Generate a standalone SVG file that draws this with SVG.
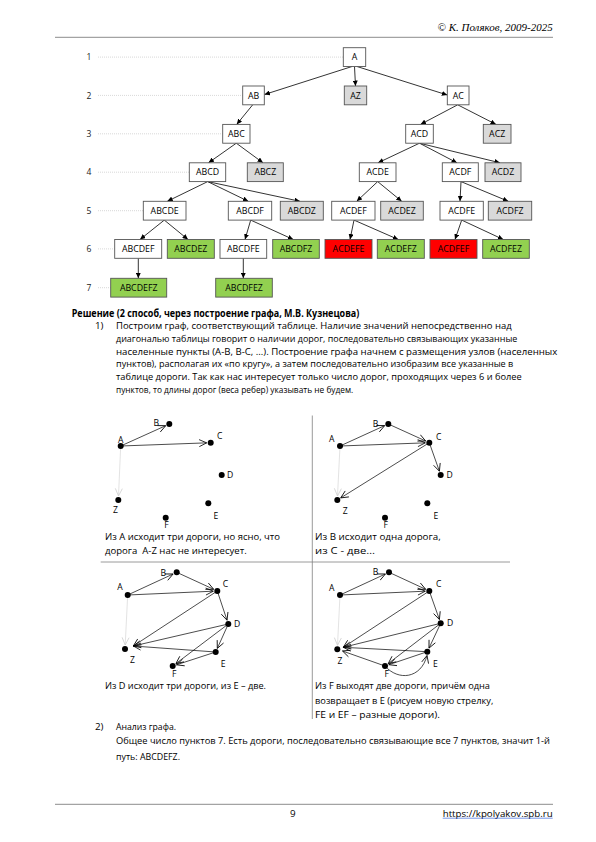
<svg xmlns="http://www.w3.org/2000/svg" width="596" height="842" viewBox="0 0 596 842">
<style>
.bx{stroke:#555;stroke-width:0.9}
.w{fill:#fff}.g{fill:#d9d9d9}.gr{fill:#92d050}.r{fill:#ff0000}
.bt{font-family:"Open Sans","DejaVu Sans",sans-serif;font-size:8.8px;text-anchor:middle;fill:#000}
.rl{font-family:"Open Sans","DejaVu Sans",sans-serif;font-size:8.5px;fill:#222}
.guide{stroke:#bdbdbd;stroke-width:0.6;stroke-dasharray:1 1;fill:none}
.te{stroke:#000;stroke-width:0.8;fill:none;marker-end:url(#ta)}
.ge{stroke:#000;stroke-width:0.7;fill:none;marker-end:url(#ga)}
.gz{stroke:#dcdcdc;stroke-width:0.8;fill:none;marker-end:url(#gz)}
.dot{fill:#000}
.nl{font-family:"Open Sans","DejaVu Sans",sans-serif;font-size:8.6px;text-anchor:middle;fill:#000}
.body{font-family:"Open Sans","DejaVu Sans",sans-serif;font-size:9.8px;fill:#000}
.cap{font-family:"Open Sans","DejaVu Sans",sans-serif;font-size:9.2px;fill:#000}
.rule{stroke:#8c8c8c;stroke-width:1}
.div{stroke:#808080;stroke-width:0.8}
</style>
<defs>
<marker id="ta" markerUnits="userSpaceOnUse" markerWidth="6" markerHeight="5" refX="5.5" refY="2.5" orient="auto"><path d="M0,0 L5.5,2.5 L0,5 z" fill="#000"/></marker>
<marker id="ga" markerUnits="userSpaceOnUse" markerWidth="9" markerHeight="9" refX="8" refY="4.5" orient="auto"><path d="M0.5,1 L8,4.5 L0.5,8" fill="none" stroke="#000" stroke-width="0.8"/></marker>
<marker id="gz" markerUnits="userSpaceOnUse" markerWidth="9" markerHeight="9" refX="8" refY="4.5" orient="auto"><path d="M0.5,1 L8,4.5 L0.5,8" fill="none" stroke="#cfcfcf" stroke-width="0.8"/></marker>
</defs>
<rect width="596" height="842" fill="#fff"/>

<!-- header -->
<text x="552.7" y="31" font-family="Liberation Serif,serif" font-style="italic" font-size="11" text-anchor="end">© К. Поляков, 2009-2025</text>
<line class="rule" x1="55" y1="37.3" x2="553" y2="37.3"/>

<!-- row labels and guides -->
<g id="levels">
<text class="rl" x="86.5" y="60.2">1</text>
<text class="rl" x="86.5" y="98.5">2</text>
<text class="rl" x="86.5" y="136.9">3</text>
<text class="rl" x="86.5" y="175.3">4</text>
<text class="rl" x="86.5" y="213.8">5</text>
<text class="rl" x="86.5" y="252">6</text>
<text class="rl" x="86.5" y="290.8">7</text>
<line class="guide" x1="98" y1="57.1" x2="343.3" y2="57.1"/>
<line class="guide" x1="98" y1="95.4" x2="242.7" y2="95.4"/>
<line class="guide" x1="98" y1="133.8" x2="222.7" y2="133.8"/>
<line class="guide" x1="98" y1="172.2" x2="189.3" y2="172.2"/>
<line class="guide" x1="98" y1="210.7" x2="143.3" y2="210.7"/>
<line class="guide" x1="98" y1="248.9" x2="114.7" y2="248.9"/>
<line class="guide" x1="98" y1="287.7" x2="110.7" y2="287.7"/>
</g>

<!-- tree connectors -->
<g id="tree-connectors">
<line class="te" x1="352" y1="66.5" x2="264.5" y2="94.5"/>
<line class="te" x1="354.5" y1="66.5" x2="355.5" y2="86"/>
<line class="te" x1="357" y1="66.5" x2="447.3" y2="95"/>
<line class="te" x1="252.7" y1="104.8" x2="236.7" y2="124.4"/>
<line class="te" x1="457.7" y1="104.8" x2="420.5" y2="124.4"/>
<line class="te" x1="457.7" y1="104.8" x2="496" y2="124.4"/>
<line class="te" x1="236.3" y1="143.2" x2="208.5" y2="162.8"/>
<line class="te" x1="236.3" y1="143.2" x2="263" y2="162.8"/>
<line class="te" x1="419.5" y1="143.2" x2="378" y2="162.8"/>
<line class="te" x1="419.5" y1="143.2" x2="457" y2="162.8"/>
<line class="te" x1="419.5" y1="143.2" x2="500" y2="162.8"/>
<line class="te" x1="207.7" y1="181.6" x2="167.3" y2="201.3"/>
<line class="te" x1="207.7" y1="181.6" x2="248.3" y2="201.3"/>
<line class="te" x1="207.7" y1="181.6" x2="300" y2="201.3"/>
<line class="te" x1="377.7" y1="181.6" x2="356.7" y2="201.3"/>
<line class="te" x1="377.7" y1="181.6" x2="401.7" y2="201.3"/>
<line class="te" x1="461" y1="181.6" x2="460" y2="201.3"/>
<line class="te" x1="461" y1="181.6" x2="508.3" y2="201.3"/>
<line class="te" x1="164.3" y1="220.1" x2="140" y2="239.5"/>
<line class="te" x1="164.3" y1="220.1" x2="188" y2="239.5"/>
<line class="te" x1="250.7" y1="220.1" x2="245" y2="239.5"/>
<line class="te" x1="250.7" y1="220.1" x2="293.3" y2="239.5"/>
<line class="te" x1="354" y1="220.1" x2="350" y2="239.5"/>
<line class="te" x1="354" y1="220.1" x2="398.3" y2="239.5"/>
<line class="te" x1="461.7" y1="220.1" x2="455" y2="239.5"/>
<line class="te" x1="461.7" y1="220.1" x2="503.3" y2="239.5"/>
<line class="te" x1="138.3" y1="258.3" x2="138.3" y2="278.3"/>
<line class="te" x1="243.3" y1="258.3" x2="243.3" y2="278.3"/>
</g>

<!-- tree nodes -->
<g id="n-A"><rect class="bx w" x="343.3" y="47.7" width="22.4" height="18.8"/><text class="bt" x="354.5" y="60.2">A</text></g>
<g id="n-AB"><rect class="bx w" x="242.7" y="86" width="21.6" height="18.8"/><text class="bt" x="253.5" y="98.5">AB</text></g>
<g id="n-AZ"><rect class="bx g" x="344.3" y="86" width="22.4" height="18.8"/><text class="bt" x="355.5" y="98.5">AZ</text></g>
<g id="n-AC"><rect class="bx w" x="447.3" y="86" width="21.7" height="18.8"/><text class="bt" x="458.2" y="98.5">AC</text></g>
<g id="n-ABC"><rect class="bx w" x="222.7" y="124.4" width="27.3" height="18.8"/><text class="bt" x="236.35" y="136.9">ABC</text></g>
<g id="n-ACD"><rect class="bx w" x="405.7" y="124.4" width="27.6" height="18.8"/><text class="bt" x="419.5" y="136.9">ACD</text></g>
<g id="n-ACZ"><rect class="bx g" x="483.3" y="124.4" width="27.7" height="18.8"/><text class="bt" x="497.15" y="136.9">ACZ</text></g>
<g id="n-ABCD"><rect class="bx w" x="189.3" y="162.8" width="36.4" height="18.8"/><text class="bt" x="207.5" y="175.3">ABCD</text></g>
<g id="n-ABCZ"><rect class="bx g" x="247.3" y="162.8" width="36" height="18.8"/><text class="bt" x="265.3" y="175.3">ABCZ</text></g>
<g id="n-ACDE"><rect class="bx w" x="359.3" y="162.8" width="36.7" height="18.8"/><text class="bt" x="377.65" y="175.3">ACDE</text></g>
<g id="n-ACDF"><rect class="bx w" x="442.3" y="162.8" width="36" height="18.8"/><text class="bt" x="460.3" y="175.3">ACDF</text></g>
<g id="n-ACDZ"><rect class="bx g" x="485" y="162.8" width="36" height="18.8"/><text class="bt" x="503" y="175.3">ACDZ</text></g>
<g id="n-ABCDE"><rect class="bx w" x="143.3" y="201.3" width="42.7" height="18.8"/><text class="bt" x="164.65" y="213.8">ABCDE</text></g>
<g id="n-ABCDF"><rect class="bx w" x="228.3" y="201.3" width="43.4" height="18.8"/><text class="bt" x="250" y="213.8">ABCDF</text></g>
<g id="n-ABCDZ"><rect class="bx g" x="280.3" y="201.3" width="43" height="18.8"/><text class="bt" x="301.8" y="213.8">ABCDZ</text></g>
<g id="n-ACDEF"><rect class="bx w" x="331.7" y="201.3" width="43.3" height="18.8"/><text class="bt" x="353.35" y="213.8">ACDEF</text></g>
<g id="n-ACDEZ"><rect class="bx g" x="380.7" y="201.3" width="42.6" height="18.8"/><text class="bt" x="402" y="213.8">ACDEZ</text></g>
<g id="n-ACDFE"><rect class="bx w" x="440" y="201.3" width="43.3" height="18.8"/><text class="bt" x="461.65" y="213.8">ACDFE</text></g>
<g id="n-ACDFZ"><rect class="bx g" x="488.3" y="201.3" width="43.4" height="18.8"/><text class="bt" x="510" y="213.8">ACDFZ</text></g>
<g id="n-ABCDEF"><rect class="bx w" x="114.7" y="239.5" width="47" height="18.8"/><text class="bt" x="138.2" y="252">ABCDEF</text></g>
<g id="n-ABCDEZ"><rect class="bx gr" x="167.3" y="239.5" width="47" height="18.8"/><text class="bt" x="190.8" y="252">ABCDEZ</text></g>
<g id="n-ABCDFE"><rect class="bx w" x="220" y="239.5" width="46.7" height="18.8"/><text class="bt" x="243.35" y="252">ABCDFE</text></g>
<g id="n-ABCDFZ"><rect class="bx gr" x="272.7" y="239.5" width="46.6" height="18.8"/><text class="bt" x="296" y="252">ABCDFZ</text></g>
<g id="n-ACDEFE"><rect class="bx r" x="325" y="239.5" width="47" height="18.8"/><text class="bt" x="348.5" y="252">ACDEFE</text></g>
<g id="n-ACDEFZ"><rect class="bx gr" x="377.3" y="239.5" width="47" height="18.8"/><text class="bt" x="400.8" y="252">ACDEFZ</text></g>
<g id="n-ACDFEF"><rect class="bx r" x="430" y="239.5" width="47" height="18.8"/><text class="bt" x="453.5" y="252">ACDFEF</text></g>
<g id="n-ACDFEZ"><rect class="bx gr" x="482.7" y="239.5" width="46.6" height="18.8"/><text class="bt" x="506" y="252">ACDFEZ</text></g>
<g id="n-ABCDEFZ"><rect class="bx gr" x="110.7" y="278.3" width="56" height="18.8"/><text class="bt" x="138.7" y="290.8">ABCDEFZ</text></g>
<g id="n-ABCDFEZ"><rect class="bx gr" x="215.7" y="278.3" width="56.6" height="18.8"/><text class="bt" x="244" y="290.8">ABCDFEZ</text></g>

<!-- solution text -->
<g id="solution-text">
<text class="body" x="71.7" y="316.7" font-weight="bold" textLength="287.6" lengthAdjust="spacingAndGlyphs">Решение (2 способ, через построение графа, М.В. Кузнецова)</text>
<text class="body" x="95" y="329.3">1)</text>
<text class="body" x="116" y="329.3" textLength="395.7" lengthAdjust="spacingAndGlyphs">Построим граф, соответствующий таблице. Наличие значений непосредственно над</text>
<text class="body" x="116" y="342" textLength="401.3" lengthAdjust="spacingAndGlyphs">диагональю таблицы говорит о наличии дорог, последовательно связывающих указанные</text>
<text class="body" x="116" y="354.7" textLength="441.3" lengthAdjust="spacingAndGlyphs">населенные пункты (А-В, В-С, …). Построение графа начнем с размещения узлов (населенных</text>
<text class="body" x="116" y="367.3" textLength="397.3" lengthAdjust="spacingAndGlyphs">пунктов), располагая их «по кругу», а затем последовательно изобразим все указанные в</text>
<text class="body" x="116" y="380" textLength="405.7" lengthAdjust="spacingAndGlyphs">таблице дороги. Так как нас интересует только число дорог, проходящих через 6 и более</text>
<text class="body" x="116" y="392.6" textLength="237.3" lengthAdjust="spacingAndGlyphs">пунктов, то длины дорог (веса ребер) указывать не будем.</text>
</g>

<!-- panel dividers -->
<g id="panel-grid">
<line class="div" x1="312.3" y1="415.5" x2="312.3" y2="719"/>
<line class="div" x1="100.7" y1="562" x2="510" y2="562"/>
</g>

<!-- panel 1 -->
<g id="p1-connectors">
<line class="ge" x1="120.7" y1="446" x2="165.7" y2="425.7"/>
<line class="ge" x1="120.7" y1="446" x2="206.7" y2="442.85"/>
<line class="gz" x1="120.7" y1="446" x2="118.5" y2="496"/>
</g>
<g id="p1-A"><circle class="dot" cx="120.7" cy="446" r="3"/><text class="nl" x="120.7" y="442.5">A</text></g>
<g id="p1-B"><circle class="dot" cx="169.3" cy="424" r="3"/><text class="nl" x="156.3" y="426">B</text></g>
<g id="p1-C"><circle class="dot" cx="210.7" cy="442.7" r="3"/><text class="nl" x="219.7" y="439.3">C</text></g>
<g id="p1-D"><circle class="dot" cx="221.7" cy="475" r="3"/><text class="nl" x="230" y="477.7">D</text></g>
<g id="p1-E"><circle class="dot" cx="208.3" cy="503.3" r="3"/><text class="nl" x="216" y="518.7">E</text></g>
<g id="p1-F"><circle class="dot" cx="165.7" cy="517.7" r="3"/><text class="nl" x="166.5" y="528">F</text></g>
<g id="p1-Z"><circle class="dot" cx="118.3" cy="500" r="3"/><text class="nl" x="115.5" y="513.3">Z</text></g>
<text class="cap" x="105" y="540.3" textLength="175" lengthAdjust="spacingAndGlyphs">Из А исходит три дороги, но ясно, что</text>
<text class="cap" x="105" y="554.3" textLength="141.7" lengthAdjust="spacingAndGlyphs" xml:space="preserve">дорога  A-Z нас не интересует.</text>

<!-- panel 2 -->
<g id="p2-connectors">
<line class="ge" x1="340" y1="446" x2="384.7" y2="425.6"/>
<line class="ge" x1="340" y1="446" x2="425.3" y2="442.85"/>
<line class="ge" x1="388.3" y1="424" x2="425.7" y2="441"/>
<line class="ge" x1="429.3" y1="442.7" x2="439.4" y2="471.2"/>
<line class="ge" x1="429.3" y1="442.7" x2="340.7" y2="497.9"/>
<line class="gz" x1="340" y1="446" x2="337.5" y2="496"/>
</g>
<g id="p2-A"><circle class="dot" cx="340" cy="446" r="3"/><text class="nl" x="331.7" y="442">A</text></g>
<g id="p2-B"><circle class="dot" cx="388.3" cy="424" r="3"/><text class="nl" x="375.5" y="426.5">B</text></g>
<g id="p2-C"><circle class="dot" cx="429.3" cy="442.7" r="3"/><text class="nl" x="438.8" y="440">C</text></g>
<g id="p2-D"><circle class="dot" cx="440.7" cy="475" r="3"/><text class="nl" x="449.7" y="477.7">D</text></g>
<g id="p2-E"><circle class="dot" cx="427.3" cy="503.3" r="3"/><text class="nl" x="435.8" y="519.3">E</text></g>
<g id="p2-F"><circle class="dot" cx="385" cy="517.7" r="3"/><text class="nl" x="385.8" y="528">F</text></g>
<g id="p2-Z"><circle class="dot" cx="337.3" cy="500" r="3"/><text class="nl" x="345.2" y="514.3">Z</text></g>
<text class="cap" x="315" y="540.3" textLength="125.7" lengthAdjust="spacingAndGlyphs">Из В исходит одна дорога,</text>
<text class="cap" x="315" y="554.3" textLength="60" lengthAdjust="spacingAndGlyphs">из С - две…</text>

<!-- panel 3 -->
<g id="p3-connectors">
<line class="ge" x1="127.7" y1="595" x2="173.1" y2="574"/>
<line class="ge" x1="127.7" y1="595" x2="213.3" y2="591.2"/>
<line class="ge" x1="176.7" y1="572.3" x2="213.7" y2="589.3"/>
<line class="ge" x1="217.3" y1="591" x2="227" y2="620.2"/>
<line class="ge" x1="217.3" y1="591" x2="133.3" y2="646"/>
<line class="ge" x1="228.3" y1="624" x2="133.3" y2="646"/>
<line class="ge" x1="228.3" y1="624" x2="217.3" y2="648.4"/>
<line class="ge" x1="228.3" y1="624" x2="175.9" y2="663.6"/>
<line class="ge" x1="215.7" y1="652" x2="133.3" y2="646"/>
<line class="ge" x1="215.7" y1="652" x2="176.5" y2="664.8"/>
<line class="gz" x1="127.7" y1="595" x2="125.2" y2="645"/>
</g>
<g id="p3-A"><circle class="dot" cx="127.7" cy="595" r="3"/><text class="nl" x="120" y="590">A</text></g>
<g id="p3-B"><circle class="dot" cx="176.7" cy="572.3" r="3"/><text class="nl" x="163.3" y="575.7">B</text></g>
<g id="p3-C"><circle class="dot" cx="217.3" cy="591" r="3"/><text class="nl" x="225.5" y="586.7">C</text></g>
<g id="p3-D"><circle class="dot" cx="228.3" cy="624" r="3"/><text class="nl" x="237.2" y="626.7">D</text></g>
<g id="p3-E"><circle class="dot" cx="215.7" cy="652" r="3"/><text class="nl" x="223.2" y="666.7">E</text></g>
<g id="p3-F"><circle class="dot" cx="172.7" cy="666" r="3"/><text class="nl" x="174.2" y="676.7">F</text></g>
<g id="p3-Z"><circle class="dot" cx="125" cy="649" r="3"/><text class="nl" x="132.5" y="662.7">Z</text></g>
<text class="cap" x="105" y="689.3" textLength="161" lengthAdjust="spacingAndGlyphs">Из D исходит три дороги, из Е – две.</text>

<!-- panel 4 -->
<g id="p4-connectors">
<line class="ge" x1="340" y1="595" x2="385.4" y2="574"/>
<line class="ge" x1="340" y1="595" x2="425.3" y2="591.2"/>
<line class="ge" x1="389" y1="572.3" x2="425.7" y2="589.3"/>
<line class="ge" x1="429.3" y1="591" x2="439.4" y2="619.5"/>
<line class="ge" x1="429.3" y1="591" x2="343.3" y2="647.3"/>
<line class="ge" x1="440.7" y1="623.3" x2="343.3" y2="647.3"/>
<line class="ge" x1="440.7" y1="623.3" x2="429" y2="648.1"/>
<line class="ge" x1="440.7" y1="623.3" x2="388.2" y2="663.6"/>
<line class="ge" x1="427.3" y1="651.7" x2="343.3" y2="647.3"/>
<line class="ge" x1="427.3" y1="651.7" x2="388.8" y2="664.7"/>
<line class="ge" x1="385" y1="666" x2="342.5" y2="651"/>
<path class="ge" d="M385,666 C398,681 421,679 427,655.5"/>
<line class="gz" x1="340" y1="595" x2="337.5" y2="645.3"/>
</g>
<g id="p4-A"><circle class="dot" cx="340" cy="595" r="3"/><text class="nl" x="331.7" y="590.7">A</text></g>
<g id="p4-B"><circle class="dot" cx="389" cy="572.3" r="3"/><text class="nl" x="375.5" y="575">B</text></g>
<g id="p4-C"><circle class="dot" cx="429.3" cy="591" r="3"/><text class="nl" x="438.8" y="586.7">C</text></g>
<g id="p4-D"><circle class="dot" cx="440.7" cy="623.3" r="3"/><text class="nl" x="450" y="626">D</text></g>
<g id="p4-E"><circle class="dot" cx="427.3" cy="651.7" r="3"/><text class="nl" x="435.5" y="666.7">E</text></g>
<g id="p4-F"><circle class="dot" cx="385" cy="666" r="3"/><text class="nl" x="386.7" y="677.3">F</text></g>
<g id="p4-Z"><circle class="dot" cx="337.3" cy="649.3" r="3"/><text class="nl" x="340" y="664">Z</text></g>
<text class="cap" x="315" y="689.3" textLength="175" lengthAdjust="spacingAndGlyphs">Из F выходят две дороги, причём одна</text>
<text class="cap" x="315" y="703.8" textLength="178.3" lengthAdjust="spacingAndGlyphs">возвращает в Е (рисуем новую стрелку,</text>
<text class="cap" x="315" y="718" textLength="125" lengthAdjust="spacingAndGlyphs">FE и EF – разные дороги).</text>

<!-- item 2 -->
<g id="analysis-text">
<text class="body" x="95" y="730">2)</text>
<text class="body" x="116" y="730" textLength="60" lengthAdjust="spacingAndGlyphs">Анализ графа.</text>
<text class="body" x="116" y="743.5" textLength="434" lengthAdjust="spacingAndGlyphs">Общее число пунктов 7. Есть дороги, последовательно связывающие все 7 пунктов, значит 1-й</text>
<text class="body" x="116" y="760" textLength="64" lengthAdjust="spacingAndGlyphs">путь: ABCDEFZ.</text>
</g>

<!-- footer -->
<line class="rule" x1="55" y1="804.3" x2="553" y2="804.3"/>
<text class="body" x="290" y="816.5">9</text>
<text class="body" x="442.7" y="816.5" fill="#1a4fd6" textLength="110" lengthAdjust="spacingAndGlyphs">https://kpolyakov.spb.ru</text>
<line x1="442.7" y1="818.2" x2="552.7" y2="818.2" stroke="#1a4fd6" stroke-width="0.6"/>
</svg>
